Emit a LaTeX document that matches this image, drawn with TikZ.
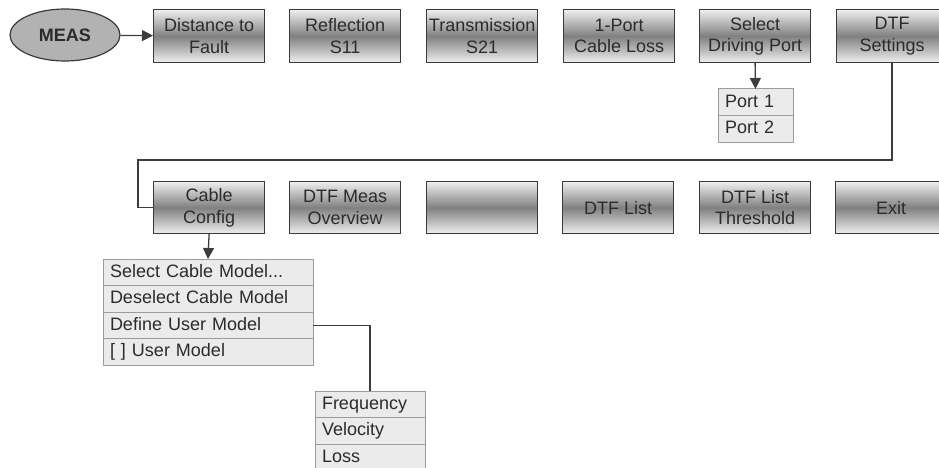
\documentclass[tikz,border=0pt]{standalone}
\usepackage{fontspec}
\setmainfont{Liberation Sans}
\usetikzlibrary{arrows.meta, shapes.geometric, positioning}
\definecolor{keyEdge}{HTML}{3A3A3A}
\definecolor{keyLight}{HTML}{EFEFEF}
\definecolor{keyDark}{HTML}{808080}
\definecolor{keyText}{HTML}{2B2B2B}
\definecolor{measFill}{HTML}{B2B2B2}
\definecolor{itemFill}{HTML}{EBEBEB}
\definecolor{itemEdge}{HTML}{9C9C9C}
\definecolor{wireGrey}{HTML}{3C3C3C}
\newcommand{\menufont}{\fontsize{18}{21.5}\selectfont}
\tikzset{
  softkey/.style  = {draw=keyEdge, line width=1.2pt, anchor=north west,
                     minimum width=111pt, minimum height=53pt, inner sep=0pt,
                     top color=keyLight, bottom color=keyLight, middle color=keyDark,
                     text=keyText, font=\menufont, align=center},
  rootkey/.style  = {ellipse, draw=keyEdge, line width=1.2pt, fill=measFill,
                     minimum width=110pt, minimum height=52pt, inner sep=0pt,
                     font=\menufont\bfseries, text=keyText},
  listitem/.style = {draw=itemEdge, line width=1pt, fill=itemFill, text=keyText,
                     font=\menufont, text width=#1, align=left, inner xsep=7pt,
                     inner ysep=0pt, minimum height=26.5pt, text height=13pt,
                     text depth=3pt, outer sep=0pt},
  wire/.style     = {draw=wireGrey, line width=1.3pt},
  feed/.style     = {wire, -{Triangle[length=11pt, width=11pt]}},
}
\begin{document}
\begin{tikzpicture}[x=1pt, y=-1pt]
  \useasboundingbox (0,0) rectangle (939,468);

  \node[rootkey] (meas) at (65,35) {MEAS};

  % first row of softkeys
  \node[softkey] (dtf)      at (153,9) {Distance to\\Fault};
  \node[softkey] (refl)     at (289,9) {Reflection\\S11};
  \node[softkey] (trans)    at (426,9) {Transmission\\S21};
  \node[softkey] (loss1p)   at (563,9) {1-Port\\Cable Loss};
  \node[softkey] (drvport)  at (699,9) {Select\\Driving Port};
  \node[softkey] (dtfset)   at (836,9) {DTF\\Settings};

  % second row of softkeys
  \node[softkey, minimum height=52pt] (cabcfg)  at (153,181) {Cable\\Config};
  \node[softkey, minimum height=52pt] (measov)  at (289,181) {DTF Meas\\Overview};
  \node[softkey, minimum height=52pt] (blank)   at (426,181) {};
  \node[softkey, minimum height=52pt] (dtflist) at (562,181) {DTF List};
  \node[softkey, minimum height=52pt] (dtfthr)  at (699,181) {DTF List\\Threshold};
  \node[softkey, minimum height=52pt] (exitkey) at (835,181) {Exit};

  % port list
  \node[listitem=61pt, anchor=north west] (port1) at (718,89) {Port 1};
  \node[listitem=61pt, below=0pt of port1] (port2) {Port 2};

  % cable model list
  \node[listitem=196pt, anchor=north west] (selmodel) at (103,259) {Select Cable Model...};
  \node[listitem=196pt, below=0pt of selmodel] (deselmodel) {Deselect Cable Model};
  \node[listitem=196pt, below=0pt of deselmodel] (defmodel) {Define User Model};
  \node[listitem=196pt, below=0pt of defmodel] (usermodel) {[ ] User Model};

  % user model list
  \node[listitem=96pt, anchor=north west] (freq) at (315,391) {Frequency};
  \node[listitem=96pt, below=0pt of freq] (velo) {Velocity};
  \node[listitem=96pt, below=0pt of velo] (loss) {Loss};

  % connectors
  \coordinate (loopback) at (138,160);
  \draw[feed] (meas) -- (dtf);
  \draw[feed] (drvport.south) -- (port1.north);
  \draw[wire] (dtfset.south) |- (loopback) |- (cabcfg.west);
  \draw[feed] (cabcfg.south) -- (selmodel.north);
  \draw[wire] (defmodel.east) -| (freq.north);
\end{tikzpicture}
\end{document}
